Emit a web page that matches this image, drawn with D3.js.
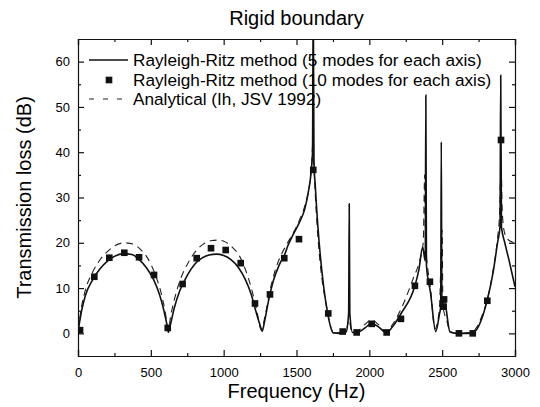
<!DOCTYPE html>
<html>
<head>
<meta charset="utf-8">
<script src="https://cdn.jsdelivr.net/npm/d3@7"></script>
<style>
  body { margin: 0; background: #fff; }
  svg { font-family: "Liberation Sans", Arial, sans-serif; }
  .domain { stroke: #111; stroke-width: 1.2; }
  .tick line { stroke: #111; stroke-width: 1.2; }
</style>
</head>
<body>
<div id="chart"></div>
<script>
// Rayleigh-Ritz, 5 modes for each axis (solid line) [Hz, dB]
const ritz5 = [
  [0, 0.3], [25, 5], [50, 8.3], [100, 11.8], [150, 14.2], [200, 15.9], [250, 17.0],
  [310, 17.6], [370, 17.4], [420, 16.3], [470, 14.5], [520, 11.8], [560, 8.5],
  [590, 5], [610, 2], [620, 0.2], [635, 2], [660, 5.5], [700, 9.5], [750, 12.8],
  [800, 15.2], [850, 16.6], [900, 17.3], [950, 17.5], [1000, 17.2], [1050, 16.3],
  [1100, 14.6], [1150, 11.8], [1190, 8.5], [1220, 5], [1250, 1.8], [1265, 0.5],
  [1280, 2.5], [1310, 7.5], [1340, 11.5], [1380, 15], [1420, 17.5], [1440, 19.3],
  [1480, 22], [1520, 24.5], [1558, 27.6], [1580, 31], [1600, 35.5], [1610, 40],
  [1615, 75], [1620, 38], [1630, 32], [1714, 4.4], [1753, 0.1], [1800, 0],
  [1840, 0.3], [1858, 4.5], [1862, 28.6], [1866, 4.5], [1885, 0.2], [1920, 0.2],
  [1970, 1.2], [2016, 2.2], [2060, 1.5], [2119, 0.1], [2160, 1.5], [2220, 4.5],
  [2313, 10.5], [2340, 14], [2366, 19], [2384, 16], [2388, 52.6], [2392, 15],
  [2420, 9], [2456, 0.4], [2480, 4], [2490, 6], [2494, 42.3], [2498, 6.5],
  [2515, 7], [2554, 0.3], [2600, 0], [2700, 0], [2740, 1], [2780, 4], [2810, 7.4],
  [2850, 13.5], [2880, 20], [2897, 23.5], [2902, 57], [2907, 23.5], [2930, 20],
  [2960, 16], [3000, 10.3]
];

// Analytical (Ih, JSV 1992) (dashed line) [Hz, dB]
const analytical = [
  [0, 0.5], [25, 6], [50, 9.5], [100, 13.5], [150, 16.2], [200, 18], [250, 19.3],
  [320, 20.0], [380, 19.7], [430, 18.5], [480, 16.5], [530, 13], [570, 9],
  [600, 4.5], [618, 0.8], [640, 4.5], [670, 8.5], [710, 12.5], [760, 15.8],
  [810, 18.2], [860, 19.7], [920, 20.5], [960, 20.6], [1010, 20.2], [1060, 19],
  [1110, 17], [1150, 14], [1190, 10], [1225, 5.5], [1258, 0.8], [1285, 4],
  [1315, 9], [1350, 13.5], [1390, 17], [1430, 19.5], [1480, 22.3], [1520, 25],
  [1560, 28.5], [1590, 33], [1605, 38], [1612, 42], [1618, 38], [1630, 30],
  [1714, 4.6], [1755, 0.2], [1800, 0.2], [1840, 0.5], [1860, 3], [1880, 0.3],
  [1920, 0.5], [1970, 2], [2016, 3], [2060, 2], [2119, 0.3], [2160, 2],
  [2220, 5.5], [2300, 12], [2340, 15.5], [2370, 20], [2380, 35], [2386, 20],
  [2420, 10], [2450, 1], [2480, 5], [2500, 22.8], [2505, 6], [2530, 3],
  [2554, 0.5], [2600, 0], [2700, 0.2], [2740, 1.5], [2780, 4.5], [2810, 7.5],
  [2850, 14], [2880, 21], [2895, 27], [2905, 38], [2912, 27], [2930, 22],
  [2960, 20.5], [3000, 20]
];

// Rayleigh-Ritz, 10 modes for each axis (squares) [Hz, dB]
const ritz10 = [
  [14, 0.7], [112, 12.5], [215, 16.7], [318, 17.8], [419, 16.8], [522, 12.9],
  [616, 1.2], [718, 10.9], [815, 16.6], [913, 18.8], [1014, 18.4], [1117, 15.5],
  [1215, 6.6], [1318, 8.6], [1416, 16.6], [1517, 20.8], [1615, 36.1], [1718, 4.4],
  [1817, 0.4], [1913, 0.2], [2016, 2.1], [2119, 0.2], [2217, 3.2], [2313, 10.5],
  [2416, 11.4], [2513, 7.5], [2510, 5.9], [2615, 0], [2710, 0], [2810, 7.2],
  [2904, 42.7]
];

const xTicks = [0, 500, 1000, 1500, 2000, 2500, 3000];
const xMinor = [250, 750, 1250, 1750, 2250, 2750];
const yTicks = [0, 10, 20, 30, 40, 50, 60];
const yMinor = [5, 15, 25, 35, 45, 55];

const legendLabels = [
  "Rayleigh-Ritz method (5 modes for each axis)",
  "Rayleigh-Ritz method (10 modes for each axis)",
  "Analytical (Ih, JSV 1992)"
];

const width = 540, height = 407;
const plotLeft = 78, plotRight = 515, plotTop = 39, plotBottom = 356;

const svg = d3.select("#chart").append("svg")
  .attr("width", width)
  .attr("height", height);

const x = d3.scaleLinear().domain([0, 3000]).range([plotLeft, plotRight]);
const y = d3.scaleLinear().domain([-5, 65]).range([plotBottom, plotTop]);

svg.append("clipPath").attr("id", "plot-clip")
  .append("rect")
  .attr("x", plotLeft).attr("y", plotTop)
  .attr("width", plotRight - plotLeft).attr("height", plotBottom - plotTop);

// axes, ticks pointing inward on all four sides
const fmt = d3.format("d");
svg.append("g").attr("transform", `translate(0,${plotBottom})`)
  .call(d3.axisBottom(x).tickValues(xTicks).tickSize(-6).tickPadding(12).tickFormat(fmt))
  .call(g => g.selectAll("text").attr("font-size", 13).attr("fill", "#000"));
svg.append("g").attr("transform", `translate(0,${plotBottom})`)
  .call(d3.axisBottom(x).tickValues(xMinor).tickSize(-3).tickFormat(""))
  .call(g => g.select(".domain").remove());
svg.append("g").attr("transform", `translate(0,${plotTop})`)
  .call(d3.axisTop(x).tickValues(xTicks).tickSize(-6).tickFormat(""));
svg.append("g").attr("transform", `translate(0,${plotTop})`)
  .call(d3.axisTop(x).tickValues(xMinor).tickSize(-3).tickFormat(""))
  .call(g => g.select(".domain").remove());

svg.append("g").attr("transform", `translate(${plotLeft},0)`)
  .call(d3.axisLeft(y).tickValues(yTicks).tickSize(-6).tickPadding(8).tickFormat(fmt))
  .call(g => g.selectAll("text").attr("font-size", 13).attr("fill", "#000"));
svg.append("g").attr("transform", `translate(${plotLeft},0)`)
  .call(d3.axisLeft(y).tickValues(yMinor).tickSize(-3).tickFormat(""))
  .call(g => g.select(".domain").remove());
svg.append("g").attr("transform", `translate(${plotRight},0)`)
  .call(d3.axisRight(y).tickValues(yTicks).tickSize(-6).tickFormat(""));
svg.append("g").attr("transform", `translate(${plotRight},0)`)
  .call(d3.axisRight(y).tickValues(yMinor).tickSize(-3).tickFormat(""))
  .call(g => g.select(".domain").remove());

svg.selectAll(".domain").attr("stroke", "#111");

// series
const line = d3.line()
  .x(d => x(d[0]))
  .y(d => y(d[1]))
  .curve(d3.curveMonotoneX);

const plot = svg.append("g").attr("clip-path", "url(#plot-clip)");

plot.append("path")
  .datum(analytical)
  .attr("fill", "none")
  .attr("stroke", "#222")
  .attr("stroke-width", 1.1)
  .attr("stroke-dasharray", "7,5")
  .attr("d", line);

plot.append("path")
  .datum(ritz5)
  .attr("fill", "none")
  .attr("stroke", "#111")
  .attr("stroke-width", 1.6)
  .attr("d", line);

const square = d3.symbol().type(d3.symbolSquare).size(44);
plot.selectAll(".sq")
  .data(ritz10)
  .enter().append("path")
  .attr("class", "sq")
  .attr("transform", d => `translate(${x(d[0])},${y(d[1])})`)
  .attr("d", square)
  .attr("fill", "#111");

// legend
const lg = svg.append("g");
const rowY = [60, 80, 99];
lg.append("line").attr("x1", 89).attr("x2", 128).attr("y1", rowY[0]).attr("y2", rowY[0])
  .attr("stroke", "#111").attr("stroke-width", 1.4);
lg.append("path").attr("d", square).attr("fill", "#111")
  .attr("transform", `translate(109,${rowY[1]})`);
lg.append("line").attr("x1", 89).attr("x2", 128).attr("y1", rowY[2]).attr("y2", rowY[2])
  .attr("stroke", "#222").attr("stroke-width", 1.1).attr("stroke-dasharray", "5,9");
lg.selectAll("text")
  .data(legendLabels)
  .enter().append("text")
  .attr("x", 133)
  .attr("y", (d, i) => rowY[i] + 6)
  .attr("font-size", 17.2)
  .attr("fill", "#000")
  .text(d => d);

// titles
svg.append("text")
  .attr("x", (plotLeft + plotRight) / 2).attr("y", 25)
  .attr("text-anchor", "middle")
  .attr("font-size", 20)
  .attr("fill", "#000")
  .text("Rigid boundary");

svg.append("text")
  .attr("x", (plotLeft + plotRight) / 2).attr("y", 398)
  .attr("text-anchor", "middle")
  .attr("font-size", 20)
  .attr("fill", "#000")
  .text("Frequency (Hz)");

svg.append("text")
  .attr("transform", `translate(31,${(plotTop + plotBottom) / 2}) rotate(-90)`)
  .attr("text-anchor", "middle")
  .attr("font-size", 20)
  .attr("fill", "#000")
  .text("Transmission loss (dB)");
</script>
</body>
</html>
